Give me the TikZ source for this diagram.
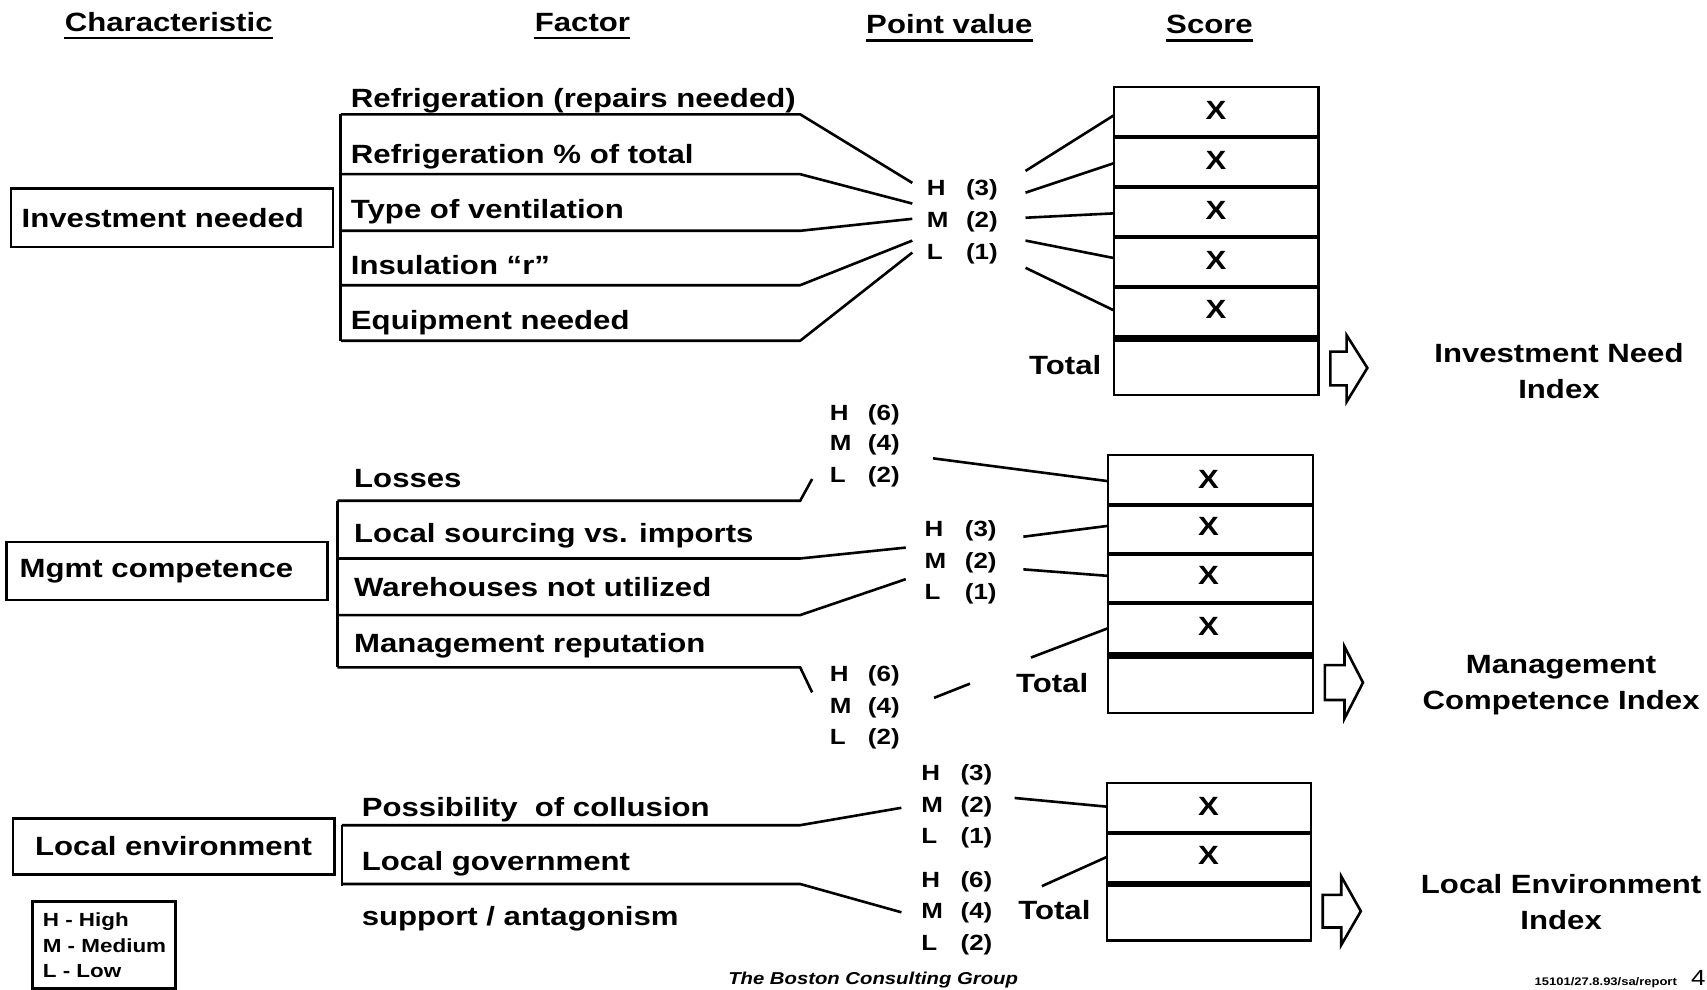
\documentclass[tikz,border=0pt]{standalone}
\usepackage{fontspec}
\setmainfont{Liberation Sans}[FakeStretch=1.18]
\begin{document}
\begin{tikzpicture}[x=0.5444pt,y=-0.5444pt,
  every node/.style={inner sep=0pt, font=\bfseries\fontsize{13.2}{16}\selectfont},
  ln/.style={line width=1.3pt, line join=miter},
  hdr/.style={anchor=base},
  uline/.style={line width=1.2pt},
  fac/.style={anchor=base west},
  pv/.style={anchor=base west, font=\bfseries\fontsize{11}{13}\selectfont},
  cbox/.style={draw, line width=1.3pt, align=left},
  sbox/.style={line width=1.2pt},
  sdiv/.style={line width=2pt},
  stot/.style={line width=3.4pt},
  harrow/.style={draw, line width=1.3pt, line join=miter},
  idx/.style={align=center, font=\bfseries\fontsize{13.2}{18}\selectfont},
  tot/.style={anchor=base east},
  lgd/.style={anchor=base west, font=\bfseries\fontsize{9.5}{11}\selectfont},
]
\useasboundingbox (0,0) rectangle (1568,909);
\fill[white] (0,0) rectangle (1568,909);

% ---------- column headings ----------
\node[hdr] (hchar) at (155,29) {Characteristic};
\node[hdr] (hfac) at (535,29) {Factor};
\node[hdr] (hpv) at (872,31) {Point value};
\node[hdr] (hscore) at (1111,31) {Score};
\foreach \h in {hchar,hfac,hpv,hscore}
  \draw[uline] ([yshift=-3.3pt]\h.base west) -- ([yshift=-3.3pt]\h.base east);

% ---------- investment needed ----------
\node[cbox, text width=150.3pt, inner xsep=5.44pt, minimum height=29.4pt] (invest) at (158,200) {Investment needed};

\node[fac] (f1a) at (322,99) {Refrigeration (repairs needed)};
\node[fac] (f1b) at (322,150) {Refrigeration \% of total};
\node[fac] (f1c) at (322,201) {Type of ventilation};
\node[fac] (f1d) at (322,252) {Insulation “r”};
\node[fac] (f1e) at (322,303) {Equipment needed};

\coordinate (b1t) at (313,105);
\coordinate (b1b) at (313,313);
\draw[ln] (b1t) -- (b1b);
\foreach \y/\ty [count=\i] in {105/168,160/187,212/201,262/221,313/232}{
  \coordinate (k1\i) at (735,\y);
  \coordinate (h1\i) at (838,\ty);
  \draw[ln] (313,\y) -- (k1\i) -- (h1\i);
}

\node[pv] (p1h) at (851,180) {\makebox[19.6pt][l]{H}(3)};
\node[pv] (p1m) at (851,209) {\makebox[19.6pt][l]{M}(2)};
\node[pv] (p1l) at (851,238) {\makebox[19.6pt][l]{L}(1)};

% score column 1
\draw[sbox] (1023,80) rectangle (1211,363);
\foreach \y in {126,172,218,264} \draw[sdiv] (1023,\y) -- (1211,\y);
\draw[stot] (1023,311) -- (1211,311);
\foreach \y [count=\i] in {101,147,193,239,284} \node (x1\i) at (1117,\y) {X};
\node[tot] (tot1) at (1012,344) {Total};

\foreach \a/\b/\c [count=\i] in {942/157/106,942/177/150,942/200/196,942/221/237,942/246/285}{
  \coordinate (q1\i) at (\a,\b);
  \coordinate (s1\i) at (1023,\c);
  \draw[ln] (q1\i) -- (s1\i);
}

\draw[harrow] (1222,323) -- (1237,323) -- (1237,308) -- (1256,338) -- (1237,369) -- (1237,354) -- (1222,354) -- cycle;
\node[idx] (idx1) at (1432,341) {Investment Need\\Index};

% ---------- management competence ----------
\node[cbox, text width=147.5pt, inner xsep=6.5pt, minimum height=28.9pt] (mgmt) at (153.5,524.5) {Mgmt competence};

\node[fac] (f2a) at (325,448) {Losses};
\node[fac] (f2b) at (325,498) {Local sourcing vs. imports};
\node[fac] (f2c) at (325,548) {Warehouses not utilized};
\node[fac] (f2d) at (325,599) {Management reputation};

\coordinate (b2t) at (310,460);
\coordinate (b2b) at (310,613);
\draw[ln] (b2t) -- (b2b);
\foreach \y/\tx/\ty [count=\i] in {460/746/440,513/832/503,565/832/532,613/746/636}{
  \coordinate (k2\i) at (735,\y);
  \coordinate (h2\i) at (\tx,\ty);
  \draw[ln] (310,\y) -- (k2\i) -- (h2\i);
}

\node[pv] (p2ah) at (762,386) {\makebox[19pt][l]{H}(6)};
\node[pv] (p2am) at (762,414) {\makebox[19pt][l]{M}(4)};
\node[pv] (p2al) at (762,443) {\makebox[19pt][l]{L}(2)};
\node[pv] (p2bh) at (849,493) {\makebox[20.1pt][l]{H}(3)};
\node[pv] (p2bm) at (849,522) {\makebox[20.1pt][l]{M}(2)};
\node[pv] (p2bl) at (849,551) {\makebox[20.1pt][l]{L}(1)};
\node[pv] (p2ch) at (762,626) {\makebox[19pt][l]{H}(6)};
\node[pv] (p2cm) at (762,655) {\makebox[19pt][l]{M}(4)};
\node[pv] (p2cl) at (762,684) {\makebox[19pt][l]{L}(2)};

% score column 2
\draw[sbox] (1018,418) rectangle (1206,655);
\foreach \y in {464,509,554} \draw[sdiv] (1018,\y) -- (1206,\y);
\draw[stot] (1018,602) -- (1206,602);
\foreach \y [count=\i] in {440,484,529,575} \node (x2\i) at (1110,\y) {X};
\node[tot] (tot2) at (1000,636) {Total};

\foreach \a/\b/\c/\d [count=\i] in {857/421/1018/442,940/493/1018/483,940/523/1018/529,947/604/1018/577,858/641/891/628}{
  \coordinate (q2\i) at (\a,\b);
  \coordinate (s2\i) at (\c,\d);
  \draw[ln] (q2\i) -- (s2\i);
}

\draw[harrow] (1217,611) -- (1235,611) -- (1235,594) -- (1252,627) -- (1235,660) -- (1235,643) -- (1217,643) -- cycle;
\node[idx] (idx2) at (1434,629) {Management\\Competence Index};

% ---------- local environment ----------
\node[cbox, align=center, minimum width=160.6pt, minimum height=27.8pt] (local) at (159.5,777.5) {Local environment};

\node[fac] (f3a) at (332,750) {Possibility\ \ of collusion};
\node[fac] (f3b) at (332,800) {Local government};
\node[fac] (f3c) at (332,850) {support / antagonism};

\coordinate (b3t) at (314,758);
\coordinate (b3b) at (314,814);
\draw[ln] (b3t) -- (b3b);
\foreach \y/\ty [count=\i] in {758/742,812/838}{
  \coordinate (k3\i) at (735,\y);
  \coordinate (h3\i) at (828,\ty);
  \draw[ln] (314,\y) -- (k3\i) -- (h3\i);
}

\node[pv] (p3ah) at (846,717) {\makebox[19.6pt][l]{H}(3)};
\node[pv] (p3am) at (846,746) {\makebox[19.6pt][l]{M}(2)};
\node[pv] (p3al) at (846,775) {\makebox[19.6pt][l]{L}(1)};
\node[pv] (p3bh) at (846,815) {\makebox[19.6pt][l]{H}(6)};
\node[pv] (p3bm) at (846,844) {\makebox[19.6pt][l]{M}(4)};
\node[pv] (p3bl) at (846,873) {\makebox[19.6pt][l]{L}(2)};

% score column 3
\draw[sbox] (1017,719) rectangle (1204,864);
\draw[sdiv] (1017,765) -- (1204,765);
\draw[stot] (1017,812) -- (1204,812);
\foreach \y [count=\i] in {741,786} \node (x3\i) at (1110,\y) {X};
\node[tot] (tot3) at (1002,845) {Total};

\foreach \a/\b/\c [count=\i] in {932/733/741,957/814/787}{
  \coordinate (q3\i) at (\a,\b);
  \coordinate (s3\i) at (1017,\c);
  \draw[ln] (q3\i) -- (s3\i);
}

\draw[harrow] (1215,822) -- (1232,822) -- (1232,805) -- (1250,837) -- (1232,868) -- (1232,852) -- (1215,852) -- cycle;
\node[idx] (idx3) at (1434,829) {Local Environment\\Index};

% ---------- legend ----------
\draw[line width=1.4pt] (30,828) rectangle (161,908);
\node[lgd] (lgh) at (39,851) {H - High};
\node[lgd] (lgm) at (39,875) {M - Medium};
\node[lgd] (lgl) at (39,898) {L - Low};

% ---------- footer ----------
\node[anchor=base, font=\bfseries\itshape\fontsize{8.6}{10}\selectfont] (bcg) at (802,904) {The Boston Consulting Group};
\node[anchor=base, font=\bfseries\fontsize{5.5}{6}\selectfont] (ref) at (1475,905) {15101/27.8.93/sa/report};
\node[anchor=base west, font=\fontsize{11}{13}\selectfont] (pg) at (1553,905) {4};
\end{tikzpicture}
\end{document}
